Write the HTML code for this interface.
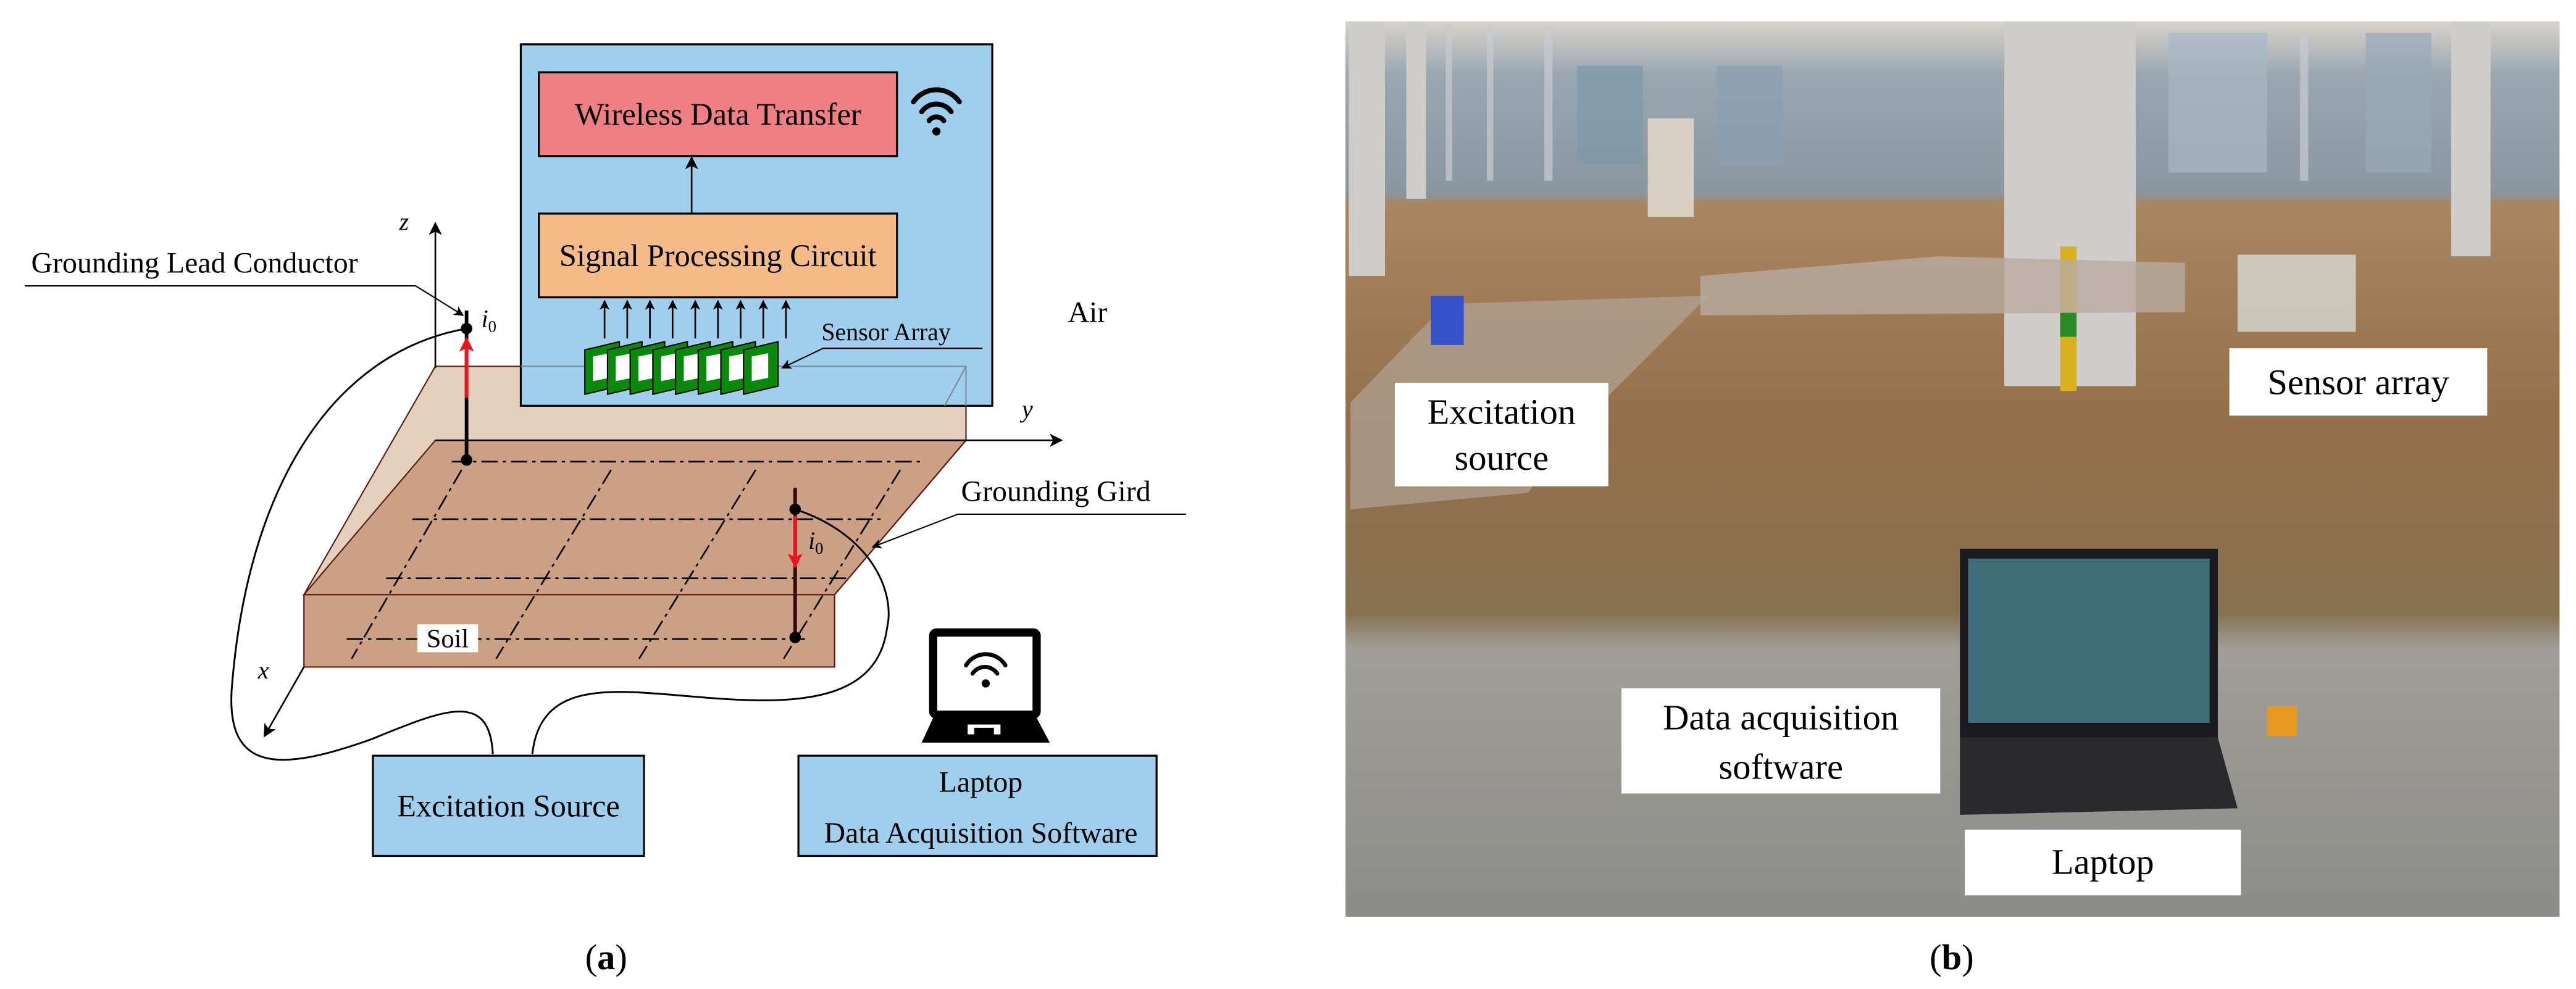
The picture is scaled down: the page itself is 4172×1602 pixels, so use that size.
<!DOCTYPE html>
<html><head><meta charset="utf-8"><style>
html,body{margin:0;padding:0;background:#fff;}
svg{display:block;}
text{font-family:"Liberation Serif","DejaVu Serif",serif;}
</style></head><body>
<svg width="4172" height="1602" viewBox="0 0 1568 602" preserveAspectRatio="none" xmlns="http://www.w3.org/2000/svg" font-family="Liberation Serif, serif">
<defs>
<marker id="ah" markerWidth="8" markerHeight="8" refX="7" refY="4" orient="auto" markerUnits="userSpaceOnUse"><path d="M0,0 L8,4 L0,8 L2,4z" fill="#000"/></marker>
<marker id="ahs" markerWidth="6" markerHeight="6" refX="5.5" refY="3" orient="auto" markerUnits="userSpaceOnUse"><path d="M0,0 L6,3 L0,6 L1.5,3z" fill="#000"/></marker>
<marker id="ahr" markerWidth="9" markerHeight="9" refX="8" refY="4.5" orient="auto" markerUnits="userSpaceOnUse"><path d="M0,0 L9,4.5 L0,9 L2,4.5z" fill="#e8141e"/></marker>
<linearGradient id="ph" x1="0" y1="0" x2="0" y2="1">
<stop offset="0" stop-color="#d8d2cc"/>
<stop offset="0.06" stop-color="#9aa6b0"/>
<stop offset="0.19" stop-color="#8a96a0"/>
<stop offset="0.205" stop-color="#a88660"/>
<stop offset="0.45" stop-color="#94704a"/>
<stop offset="0.66" stop-color="#86704e"/>
<stop offset="0.70" stop-color="#a09e98"/>
<stop offset="1" stop-color="#8c8c88"/>
</linearGradient>
</defs>

<!-- slab -->
<polygon points="265,223 588,223 588,268 508,362 508,406 185,406 185,362 265,223" fill="#e5cfbd"/>
<polygon points="265,268 588,268 508,362 185,362" fill="#cca084" stroke="#5a1a10" stroke-width="0.8"/>
<rect x="185" y="362" width="323" height="44" fill="#cca084" stroke="#5a1a10" stroke-width="0.8"/>
<polyline points="265,223 588,223 588,268 508,362" fill="none" stroke="#5a1a10" stroke-width="0.8"/>
<line x1="265" y1="223" x2="185" y2="362" stroke="#5a1a10" stroke-width="0.8"/>

<!-- air box -->
<rect x="317" y="27" width="287" height="220" fill="#9fcfec" stroke="#000" stroke-width="1.2"/>
<polyline points="317,223 588,223 588,247" fill="none" stroke="#7a8a98" stroke-width="0.8"/>
<line x1="588" y1="223" x2="575" y2="247" stroke="#7a8a98" stroke-width="0.8"/>

<!-- grid -->
<g stroke="#000" stroke-width="1" stroke-dasharray="10,3,2,3" fill="none">
<line x1="275" y1="281" x2="562" y2="281"/>
<line x1="251" y1="316" x2="538" y2="316"/>
<line x1="235" y1="352" x2="515" y2="352"/>
<line x1="211" y1="389" x2="490" y2="389"/>
<line x1="281" y1="286" x2="214" y2="401"/>
<line x1="372" y1="286" x2="302" y2="401"/>
<line x1="460" y1="286" x2="389" y2="401"/>
<line x1="548" y1="286" x2="477" y2="401"/>
</g>
<rect x="254" y="380" width="37" height="17" fill="#fff"/>
<text x="272.5" y="394" font-size="16" text-anchor="middle">Soil</text>

<!-- axes -->
<line x1="265" y1="224" x2="265" y2="136" stroke="#000" stroke-width="1" marker-end="url(#ah)"/>
<text x="243" y="140" font-size="15" font-style="italic">z</text>
<line x1="265" y1="268" x2="646" y2="268" stroke="#000" stroke-width="1" marker-end="url(#ah)"/>
<text x="622" y="254" font-size="15" font-style="italic">y</text>
<line x1="185" y1="406" x2="161" y2="448" stroke="#000" stroke-width="1" marker-end="url(#ah)"/>
<text x="157" y="413" font-size="15" font-style="italic">x</text>

<!-- conductors -->
<line x1="284" y1="189" x2="284" y2="280" stroke="#000" stroke-width="2.2"/>
<line x1="284" y1="242" x2="284" y2="206" stroke="#e8141e" stroke-width="2.2" marker-end="url(#ahr)"/>
<circle cx="284" cy="200" r="3.5" fill="#000"/>
<circle cx="284" cy="280" r="3.5" fill="#000"/>
<text x="293" y="199" font-size="15" font-style="italic">i<tspan font-size="10" font-style="normal" dy="3">0</tspan></text>
<line x1="484" y1="297" x2="484" y2="388" stroke="#3a0a0a" stroke-width="2.2"/>
<line x1="484" y1="314" x2="484" y2="345" stroke="#e8141e" stroke-width="2.2" marker-end="url(#ahr)"/>
<circle cx="484" cy="310" r="3.5" fill="#000"/>
<circle cx="484" cy="388" r="3.5" fill="#000"/>
<text x="492" y="334" font-size="15" font-style="italic">i<tspan font-size="10" font-style="normal" dy="3">0</tspan></text>

<!-- wires -->
<path d="M284,200 C200,215 150,300 141,420 C138,470 170,470 226,450 C270,432 298,420 300,459" fill="none" stroke="#000" stroke-width="1.1"/>
<path d="M484,310 C530,325 545,360 540,382 C535,420 500,428 452,426 C390,424 330,405 324,459" fill="none" stroke="#000" stroke-width="1.1"/>

<!-- labels with leaders -->
<text x="19" y="166" font-size="18">Grounding Lead Conductor</text>
<polyline points="15,174 253,174 282,192" fill="none" stroke="#000" stroke-width="0.8" marker-end="url(#ahs)"/>
<text x="585" y="305" font-size="18">Grounding Gird</text>
<polyline points="722,313 583,313 531,333" fill="none" stroke="#000" stroke-width="0.8" marker-end="url(#ahs)"/>
<text x="650" y="196" font-size="18">Air</text>

<!-- boxes in air -->
<rect x="328" y="44" width="218" height="51" fill="#f07f84" stroke="#000" stroke-width="1.2"/>
<text x="437" y="76" font-size="19" text-anchor="middle">Wireless Data Transfer</text>
<line x1="421" y1="130" x2="421" y2="96" stroke="#000" stroke-width="1" marker-end="url(#ah)"/>
<rect x="328" y="130" width="218" height="51" fill="#f4bb88" stroke="#000" stroke-width="1.2"/>
<text x="437" y="162" font-size="19" text-anchor="middle">Signal Processing Circuit</text>
<g fill="none" stroke="#000" stroke-width="3" stroke-linecap="round">
<path d="M556,62 A17,17 0 0 1 584,62"/>
<path d="M561,68 A11,11 0 0 1 579,68"/>
<path d="M565.5,73.5 A5.5,5.5 0 0 1 574.5,73.5"/>
</g>
<circle cx="570" cy="80" r="2.5" fill="#000"/>

<!-- sensor arrows and coils -->
<g stroke="#000" stroke-width="1">
<line x1="368" y1="206" x2="368" y2="183" marker-end="url(#ahs)"/>
<line x1="381.8" y1="206" x2="381.8" y2="183" marker-end="url(#ahs)"/>
<line x1="395.6" y1="206" x2="395.6" y2="183" marker-end="url(#ahs)"/>
<line x1="409.4" y1="206" x2="409.4" y2="183" marker-end="url(#ahs)"/>
<line x1="423.2" y1="206" x2="423.2" y2="183" marker-end="url(#ahs)"/>
<line x1="437" y1="206" x2="437" y2="183" marker-end="url(#ahs)"/>
<line x1="450.8" y1="206" x2="450.8" y2="183" marker-end="url(#ahs)"/>
<line x1="464.6" y1="206" x2="464.6" y2="183" marker-end="url(#ahs)"/>
<line x1="478.4" y1="206" x2="478.4" y2="183" marker-end="url(#ahs)"/>
</g>
<g id="coil">
<polygon points="356,213 377,208 377,235 356,240" fill="#0a8a0a" stroke="#000" stroke-width="0.8"/>
<polygon points="361,217 371,215 371,230 361,232" fill="#fff"/>
</g>
<use href="#coil" x="13.8"/><use href="#coil" x="27.6"/><use href="#coil" x="41.4"/><use href="#coil" x="55.2"/><use href="#coil" x="69"/><use href="#coil" x="82.8"/><use href="#coil" x="96.6"/>
<text x="500" y="207" font-size="15">Sensor Array</text>
<polyline points="598,212 501,212 476,224" fill="none" stroke="#000" stroke-width="0.8" marker-end="url(#ahs)"/>

<!-- bottom boxes -->
<rect x="227" y="460" width="165" height="61" fill="#9fcfec" stroke="#000" stroke-width="1.2"/>
<text x="309.5" y="497" font-size="19" text-anchor="middle">Excitation Source</text>
<rect x="486" y="460" width="218" height="61" fill="#9fcfec" stroke="#000" stroke-width="1.2"/>
<text x="597" y="482" font-size="18" text-anchor="middle">Laptop</text>
<text x="597" y="513" font-size="18" text-anchor="middle">Data Acquisition Software</text>
<rect x="568" y="385" width="63" height="50" rx="2" fill="#fff" stroke="#000" stroke-width="5"/>
<path d="M568,437 L631,437 L639,452 L561,452 Z" fill="#000"/>
<rect x="589" y="441" width="20" height="6" fill="#fff"/>
<rect x="593" y="443" width="12" height="5" fill="#000"/>
<g fill="none" stroke="#000" stroke-width="2.5" stroke-linecap="round">
<path d="M588,405 A14,14 0 0 1 612,405"/>
<path d="M592,410 A9,9 0 0 1 607,410"/>
</g>
<circle cx="600" cy="416" r="2.5" fill="#000"/>

<text x="369" y="590" font-size="22" text-anchor="middle">(<tspan font-weight="bold">a</tspan>)</text>

<!-- photo -->
<rect x="819" y="13" width="739" height="545" fill="url(#ph)"/>
<g fill="#c8ccd0" opacity="0.7">
<rect x="880" y="15" width="4" height="95"/><rect x="905" y="15" width="4" height="95"/><rect x="940" y="15" width="5" height="95"/>
<rect x="960" y="40" width="40" height="60" fill="#7e98aa"/><rect x="1045" y="40" width="40" height="60" fill="#8aa0b0"/>
<rect x="1320" y="20" width="60" height="85" fill="#a8b8c4"/><rect x="1400" y="20" width="5" height="90"/><rect x="1440" y="20" width="40" height="85" fill="#98aab8"/>
</g>
<g fill="#cfcdca">
<rect x="821" y="13" width="22" height="155"/>
<rect x="856" y="13" width="12" height="108"/>
<rect x="1492" y="13" width="24" height="143"/>
<rect x="1220" y="13" width="80" height="222"/>
</g>
<rect x="1254" y="150" width="10" height="88" fill="#d9b020"/>
<rect x="1254" y="190" width="10" height="15" fill="#2a8a2a"/>
<rect x="1003" y="72" width="28" height="60" fill="#d8d0c2"/>
<polygon points="1035,168 1180,156 1330,160 1330,190 1035,192" fill="#b8aaa0" opacity="0.8"/>
<polygon points="822,245 880,185 1040,180 980,240 930,300 822,310" fill="#b5aca2" opacity="0.6"/>
<rect x="1362" y="155" width="72" height="47" fill="#d7dad2" opacity="0.8"/>
<rect x="871" y="180" width="20" height="30" fill="#3552c8"/>
<rect x="1193" y="334" width="157" height="115" fill="#1a1a1e"/>
<rect x="1198" y="340" width="147" height="100" fill="#3e6f78"/>
<polygon points="1193,449 1350,449 1362,492 1193,496" fill="#2a2a2e"/>
<rect x="1380" y="430" width="18" height="18" fill="#e89a20"/>
<rect x="849" y="233" width="130" height="63" fill="#fff"/>
<text x="914" y="258" font-size="22" text-anchor="middle">Excitation</text>
<text x="914" y="286" font-size="22" text-anchor="middle">source</text>
<rect x="1357" y="212" width="157" height="41" fill="#fff"/>
<text x="1435.5" y="240" font-size="22" text-anchor="middle">Sensor array</text>
<rect x="987" y="419" width="194" height="64" fill="#fff"/>
<text x="1084" y="444" font-size="22" text-anchor="middle">Data acquisition</text>
<text x="1084" y="474" font-size="22" text-anchor="middle">software</text>
<rect x="1196" y="505" width="168" height="40" fill="#fff"/>
<text x="1280" y="532" font-size="22" text-anchor="middle">Laptop</text>

<text x="1188" y="590" font-size="22" text-anchor="middle">(<tspan font-weight="bold">b</tspan>)</text>
</svg>
</body></html>
